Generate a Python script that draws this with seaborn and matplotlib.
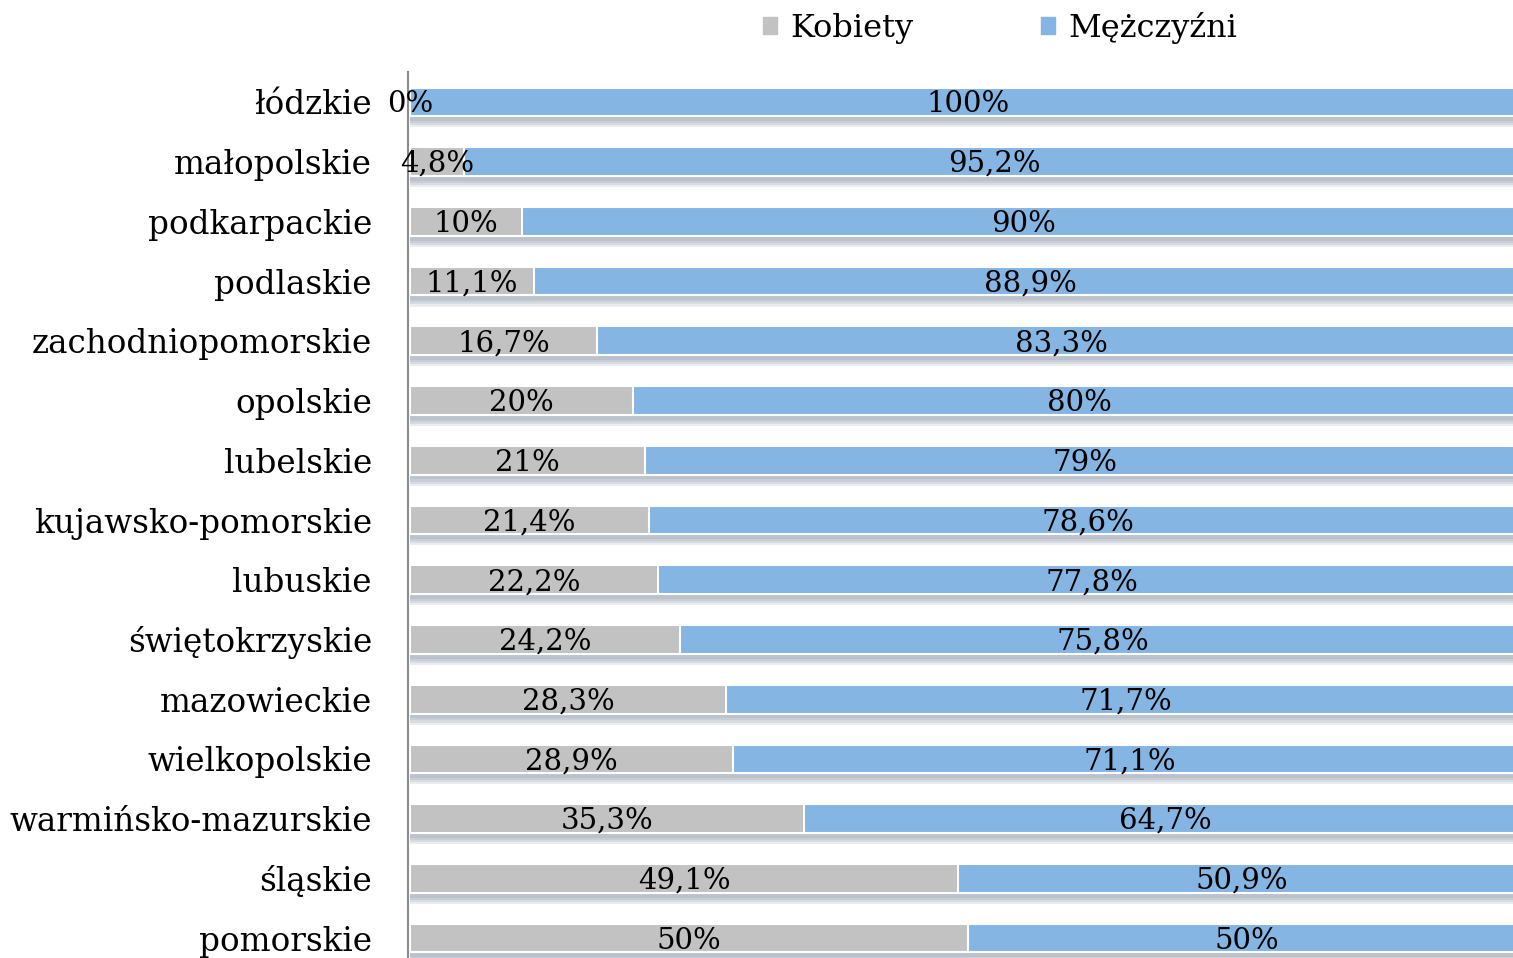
import matplotlib
matplotlib.use('Agg')
import matplotlib.pyplot as plt
import matplotlib.patheffects as pe
import seaborn as sns
import pandas as pd

wojewodztwa = ['łódzkie', 'małopolskie', 'podkarpackie', 'podlaskie', 'zachodniopomorskie',
               'opolskie', 'lubelskie', 'kujawsko-pomorskie', 'lubuskie', 'świętokrzyskie',
               'mazowieckie', 'wielkopolskie', 'warmińsko-mazurskie', 'śląskie', 'pomorskie']
kobiety = [0, 4.8, 10, 11.1, 16.7, 20, 21, 21.4, 22.2, 24.2, 28.3, 28.9, 35.3, 49.1, 50]
mezczyzni = [100, 95.2, 90, 88.9, 83.3, 80, 79, 78.6, 77.8, 75.8, 71.7, 71.1, 64.7, 50.9, 50]

df = pd.DataFrame({'woj': wojewodztwa, 'Kobiety': kobiety, 'Mężczyźni': mezczyzni})
df['razem'] = df['Kobiety'] + df['Mężczyźni']

sns.set_style('white')
plt.rcParams['font.family'] = ['DejaVu Serif']

fig = plt.figure(figsize=(15.13, 9.58), dpi=100)
ax = fig.add_axes([408 / 1513, 1 - 968 / 958, (1526 - 408) / 1513, 896 / 958])

szary = '#c2c2c2'
niebieski = '#85b5e3'
# miękki cień pod słupkami (kilka warstw)
cien = [pe.SimplePatchShadow(offset=(0, -d), shadow_rgbFace='#6d7f90', alpha=0.14) for d in (8, 6.5, 5, 3.5)]
cien.append(pe.Normal())

sns.barplot(data=df, y='woj', x='razem', color=niebieski, width=0.48, orient='h',
            edgecolor='white', linewidth=1.5, ax=ax, saturation=1)
for p in ax.patches:
    p.set_path_effects(cien)
sns.barplot(data=df, y='woj', x='Kobiety', color=szary, width=0.48, orient='h',
            edgecolor='white', linewidth=1.5, ax=ax, saturation=1)

def fmt(v):
    s = ('%.1f' % v).rstrip('0').rstrip('.')
    return s.replace('.', ',') + '%'

for i, (k, m) in enumerate(zip(kobiety, mezczyzni)):
    ax.text(k / 2, i + 0.04, fmt(k), ha='center', va='center', fontsize=21, color='black')
    ax.text(k + m / 2, i + 0.04, fmt(m), ha='center', va='center', fontsize=21, color='black')

ax.set_xlim(-0.2, 100)
ax.set_ylim(14.5, -0.5)
ax.set_xlabel('')
ax.set_ylabel('')
ax.set_xticks([])
ax.tick_params(axis='y', length=0, pad=26, labelsize=23.5, labelcolor='black')
for s in ['top', 'right', 'bottom']:
    ax.spines[s].set_visible(False)
ax.spines['left'].set_color('#8c8c8c')
ax.spines['left'].set_linewidth(1.5)
ax.set_facecolor('none')

uchwyty = [plt.Rectangle((0, 0), 1, 1, color=szary), plt.Rectangle((0, 0), 1, 1, color=niebieski)]
fig.legend(uchwyty, ['Kobiety', 'Mężczyźni'], loc='center', bbox_to_anchor=(1000 / 1513, 1 - 28 / 958),
           ncol=2, frameon=False, fontsize=23, handlelength=0.45, handleheight=0.45,
           handletextpad=0.4, columnspacing=4.0, labelcolor='black')

fig.savefig('out.png', dpi=100)
